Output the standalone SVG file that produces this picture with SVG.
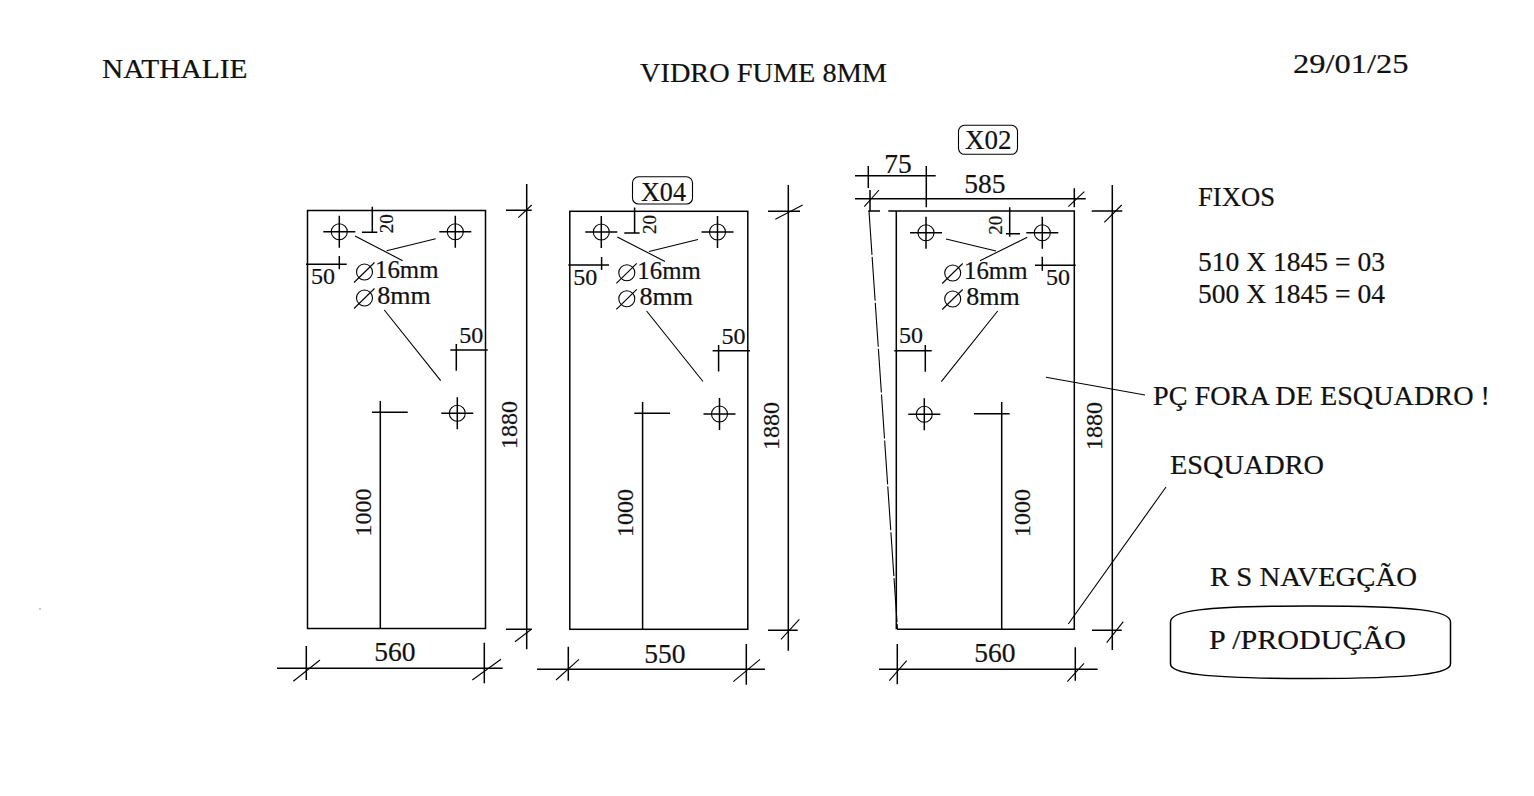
<svg xmlns="http://www.w3.org/2000/svg" xmlns:xlink="http://www.w3.org/1999/xlink" width="1534" height="796" viewBox="0 0 1534 796">
<style>
text{font-family:"Liberation Serif","Times New Roman",serif;fill:#111;stroke:#111;stroke-width:.2}
.t{font-size:27px}.d{font-size:24px}.m{font-size:25px}.s{font-size:19px}.b{font-size:27.500px}
line,path,rect,circle{fill:none;stroke:#000;stroke-width:1.5}
.thin{stroke-width:1.100}
</style>
<defs>
<g id="hole"><circle r="8" class="thin"/><path d="M-16 0H16M0 -16V16"/></g>
<g id="dia"><circle r="8" class="thin"/><path class="thin" d="M-10.500 10.500L10 -9.500"/></g>
</defs>
<rect width="1534" height="796" style="fill:#fff;stroke:none"/>
<g id="header">
<text class="t" x="102" y="78" textLength="145.500" lengthAdjust="spacingAndGlyphs">NATHALIE</text>
<text class="t" x="640" y="82" textLength="247" lengthAdjust="spacingAndGlyphs">VIDRO FUME 8MM</text>
<text class="t" x="1293" y="73" textLength="115.500" lengthAdjust="spacingAndGlyphs">29/01/25</text>
</g>
<g id="panel-1">
<rect x="307.500" y="210.500" width="178" height="418"/>
<use xlink:href="#hole" href="#hole" x="339.300" y="231.700"/>
<use xlink:href="#hole" href="#hole" x="455.300" y="231.700"/>
<use xlink:href="#hole" href="#hole" x="457.300" y="413.300"/>
<use xlink:href="#dia" href="#dia" x="364.500" y="272"/>
<use xlink:href="#dia" href="#dia" x="364.500" y="298"/>
<path d="M372.300 206.700V232.700M362 232.300H377.300M306 264.300H346.700M339.300 256V269.300M450.300 350H487.700M456.300 344V370.700M380.300 401V628.500M372 412.300H407.700"/>
<path class="thin" d="M355 236L402.700 260.700M386.700 250.700L435.700 238.700M384.300 310L440.700 380.700"/>
<text class="s" transform="translate(393.300 233.300) rotate(-90)">20</text>
<text class="d" x="311" y="284.300">50</text>
<text class="d" x="459.300" y="342.700">50</text>
<text class="m" x="375" y="277.700" textLength="63.500" lengthAdjust="spacingAndGlyphs">16mm</text>
<text class="m" x="377.300" y="304" textLength="53.500" lengthAdjust="spacingAndGlyphs">8mm</text>
<text class="d" transform="translate(371 536.500) rotate(-90)">1000</text>
<text class="d" transform="translate(516.500 449) rotate(-90)">1880</text>
<text class="b" x="374.300" y="661">560</text>
<path d="M526.700 184V649.300M506 210.300H531.700M506 629.300H531.700M277 668.300H502.700M306.300 646V680M484.300 642.700V683.300"/>
<path class="thin" d="M518.300 217.700L531.700 205M515 641.700L531.700 629M293.300 681.300L320 660M472.300 680L501 659.300"/>
</g>
<g id="panel-2">
<rect x="569.800" y="211.300" width="178" height="418"/>
<use xlink:href="#hole" href="#hole" x="601.300" y="232"/>
<use xlink:href="#hole" href="#hole" x="717.500" y="232"/>
<use xlink:href="#hole" href="#hole" x="719.500" y="414"/>
<use xlink:href="#dia" href="#dia" x="626.800" y="272.800"/>
<use xlink:href="#dia" href="#dia" x="626.800" y="298.800"/>
<path d="M634.600 207.500V233.500M624.300 233H639.600M568.300 265H609M601.600 257V270M712.600 350.800H750M718.600 345V371.400M642.600 402V629.300M634.300 413.200H670"/>
<path class="thin" d="M617.300 237L665 261.500M649 251.500L698 239.500M646.600 311L703 381.500"/>
<text class="s" transform="translate(655.600 234) rotate(-90)">20</text>
<text class="d" x="573.300" y="285">50</text>
<text class="d" x="721.600" y="343.500">50</text>
<text class="m" x="637.300" y="278.500" textLength="63.500" lengthAdjust="spacingAndGlyphs">16mm</text>
<text class="m" x="639.600" y="304.800" textLength="53.500" lengthAdjust="spacingAndGlyphs">8mm</text>
<text class="d" transform="translate(633 537) rotate(-90)">1000</text>
<text class="d" transform="translate(778.500 450) rotate(-90)">1880</text>
<text class="b" x="644.300" y="662.700">550</text>
<path d="M788.300 185V650.700M768 211.300H800M768 630.300H797.700M537 669.300H765M568.300 646.700V680.700M746.300 644V684.700"/>
<path class="thin" d="M775.300 219.300L802.700 205M781 639.300L799.300 619.300M556 680L579 659.300M733.300 681.700L760 659.300"/>
<rect id="tag-x04" x="632.500" y="176.800" width="60" height="27.200" rx="6" class="thin"/>
<text class="t" x="641" y="200.700" textLength="45" lengthAdjust="spacingAndGlyphs">X04</text>
</g>
<g id="panel-3">
<path d="M888.300 211H1074.300V629.300H897M896.300 211V629.300M868.300 211H880"/>
<path class="thin" stroke-dasharray="44 2" d="M869 211L897.500 629.300"/>
<use xlink:href="#hole" href="#hole" x="926" y="232.700"/>
<use xlink:href="#hole" href="#hole" x="1042.300" y="232.700"/>
<use xlink:href="#hole" href="#hole" x="924.300" y="414.300"/>
<use xlink:href="#dia" href="#dia" x="952.700" y="273"/>
<use xlink:href="#dia" href="#dia" x="952.700" y="299"/>
<path d="M1009.700 207.300V236.700M1006 233.700H1020M1035 265.300H1075.700M1042.300 256.700V270.700M894.300 350.700H931.700M925.300 345V371.700M1001.700 402V629.300M974 413.700H1009.700"/>
<path class="thin" d="M946 239L996 251M1027.300 237.300L980 260.700M997.700 311L941.300 381.700M1046 377.300L1145 395M1166 487L1068.300 624"/>
<path d="M855 175.700H935.700M868.300 166V188M926.300 166V207.300M855 198.700H1085.700M870 190V211M1074.300 188.300V207.300"/>
<path class="thin" d="M864.300 206.700L879 190M1068.300 206.700L1084.300 191.700"/>
<text class="s" transform="translate(1001.700 234.700) rotate(-90)">20</text>
<text class="d" x="1046" y="285">50</text>
<text class="d" x="899" y="343.300">50</text>
<text class="m" x="964" y="279" textLength="63.500" lengthAdjust="spacingAndGlyphs">16mm</text>
<text class="m" x="966.300" y="305" textLength="53.500" lengthAdjust="spacingAndGlyphs">8mm</text>
<text class="d" transform="translate(1030 537) rotate(-90)">1000</text>
<text class="d" transform="translate(1102 450) rotate(-90)">1880</text>
<text class="b" x="884.300" y="173.300">75</text>
<text class="b" x="964.300" y="193.300">585</text>
<text class="b" x="974.300" y="662.300">560</text>
<path d="M1112.300 185V650M1091.700 211H1122.300M1092 630.300H1121.700M879 669.300H1097.700M897.300 644V684.300M1075.300 647.300V680.700"/>
<path class="thin" d="M1104.300 222.300L1121.700 205M1106.700 642.700L1123.300 621.700M889.300 680.700L906.700 660.700M1067.300 681.700L1084 663.300"/>
<rect id="tag-x02" x="958.500" y="125.300" width="59" height="29" rx="6" class="thin"/>
<text class="t" x="965" y="149.300" textLength="46.500" lengthAdjust="spacingAndGlyphs">X02</text>
</g>
<g id="notes">
<text class="t" x="1198" y="206" textLength="77" lengthAdjust="spacingAndGlyphs">FIXOS</text>
<text class="t" x="1198" y="271" textLength="187" lengthAdjust="spacingAndGlyphs">510 X 1845 = 03</text>
<text class="t" x="1198" y="303" textLength="187" lengthAdjust="spacingAndGlyphs">500 X 1845 = 04</text>
<text class="t" x="1153" y="404.500" textLength="337" lengthAdjust="spacingAndGlyphs">PÇ FORA DE ESQUADRO !</text>
<text class="t" x="1170" y="474" textLength="154" lengthAdjust="spacingAndGlyphs">ESQUADRO</text>
<text class="t" x="1210" y="585.700" textLength="207" lengthAdjust="spacingAndGlyphs">R S NAVEGÇÃO</text>
</g>
<g id="stamp">
<path d="M1170.500 622C1170.500 611 1200 606 1310 606C1420 606 1450.500 611 1450.500 622V664C1450.500 673 1420 678.500 1310 678.500C1200 678.500 1170.500 673 1170.500 664Z"/>
<text class="t" x="1209" y="649.300" textLength="197" lengthAdjust="spacingAndGlyphs">P /PRODUÇÃO</text>
</g>
<rect id="speck" x="39.500" y="608.500" width="1" height="1" style="fill:#333;stroke:none"/>
</svg>
